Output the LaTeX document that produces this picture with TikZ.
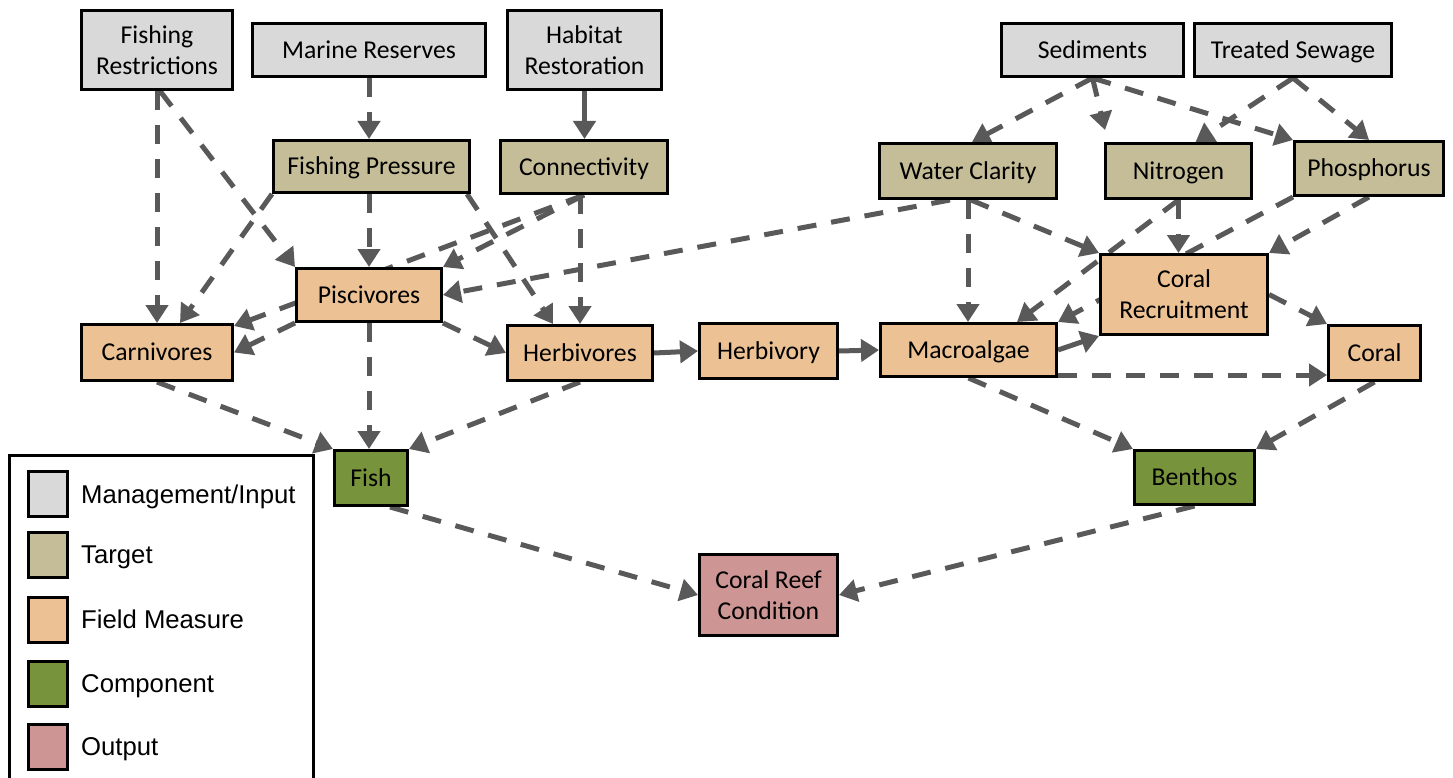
\documentclass[tikz,border=0pt]{standalone}
\usepackage{fontspec}
\setmainfont{Carlito}
\newfontfamily\legfont{Liberation Sans}
\usetikzlibrary{arrows.meta,calc}
\pgfdeclarelayer{edges}
\pgfsetlayers{edges,main}
\definecolor{cmgmt}{HTML}{D9D9D9}
\definecolor{ctarget}{HTML}{C4BD97}
\definecolor{cfield}{HTML}{ECC194}
\definecolor{ccomp}{HTML}{77933C}
\definecolor{cout}{HTML}{CD9593}
\definecolor{carrow}{HTML}{595959}
\begin{document}
\begin{tikzpicture}[x=1pt,y=-1pt,
  box/.style={draw=black, line width=3pt, inner sep=0pt, align=center,
    font=\fontsize{25.7}{31}\selectfont, text=black},
  one/.style={text height=16.5pt, text depth=0pt},
  mgmt/.style={box, fill=cmgmt},
  target/.style={box, fill=ctarget},
  field/.style={box, fill=cfield},
  comp/.style={box, fill=ccomp},
  outp/.style={box, fill=cout},
  sz/.style 2 args={minimum width=#1pt-3pt, minimum height=#2pt-3pt},
  flow/.style={draw=carrow, line width=5pt, dash pattern=on 19pt off 15pt,
    -{Triangle[length=18pt,width=22pt]}},
  sflow/.style={draw=carrow, line width=5pt, -{Triangle[length=18pt,width=22pt]}},
  legsq/.style={draw=black, line width=3pt, inner sep=0pt, minimum width=39pt, minimum height=45pt},
  legtx/.style={anchor=base west, inner sep=0pt, font=\legfont\fontsize{25.7}{30}\selectfont},
]
\clip (0,0) rectangle (1453,778);

% management / input
\node[mgmt, sz={154}{82}] (fr) at (157,50) {Fishing\\Restrictions};
\node[mgmt, one, sz={236}{56}] (mr) at (369,50) {Marine Reserves};
\node[mgmt, sz={157}{82}] (hr) at (584.5,50) {Habitat\\Restoration};
\node[mgmt, one, sz={185}{56}] (sed) at (1092.5,50) {Sediments};
\node[mgmt, one, sz={200}{56}] (ts) at (1293,50) {Treated Sewage};
% targets
\node[target, one, sz={199}{55}] (fp) at (371.5,166.5) {Fishing Pressure};
\node[target, one, sz={170}{56}] (con) at (584,167) {Connectivity};
\node[target, one, sz={180}{58}] (wc) at (968,171) {Water Clarity};
\node[target, one, sz={149}{58}] (nit) at (1178.5,171) {Nitrogen};
\node[target, one, sz={152}{57}] (pho) at (1369,168.5) {Phosphorus};
% field measures
\node[field, one, sz={148}{56}] (pis) at (369,295) {Piscivores};
\node[field, one, sz={154}{59}] (car) at (157,352.5) {Carnivores};
\node[field, one, sz={148}{58}] (her) at (580,353) {Herbivores};
\node[field, one, sz={141}{58}] (hby) at (768.5,351) {Herbivory};
\node[field, one, sz={179}{56}] (mac) at (968.5,350) {Macroalgae};
\node[field, sz={170}{83}] (cr) at (1184,294.5) {Coral\\Recruitment};
\node[field, one, sz={95}{58}] (cor) at (1374.5,353) {Coral};
% components
\node[comp, one, sz={76}{58}] (fish) at (371,478) {Fish};
\node[comp, one, sz={123}{57}] (ben) at (1194.5,477.5) {Benthos};
% output
\node[outp, sz={141}{84}] (crc) at (768.5,595) {Coral Reef\\Condition};

\begin{pgfonlayer}{edges}
\draw[flow] (mr.south) -- (mr.south |- fp.north);
\draw[sflow] (hr.south) -- (hr.south |- con.north);
\draw[flow] (fr.south) -- (car.north);
\draw[flow] ($(fr.south)+(3,0)$) -- (pis.north west);
\draw[flow] (fp.south west) -- ($(car.north)+(23,0)$);
\draw[flow] (pis.north |- fp.south) -- (pis.north);
\draw[flow] ($(fp.south east)+(-4,0)$) -- ($(her.north west)+(47,0)$);
\draw[flow] (con.south) -- (pis.north east);
\draw[flow] (con.south) -- ($(car.north east)+(0,3)$);
\draw[flow] (her.north |- con.south) -- (her.north);
\draw[flow] (pis.south west) -- (car.east);
\draw[flow] ($(wc.south)+(-18,0)$) -- (pis.east);
\draw[flow] (wc.south) -- (wc.south |- mac.north);
\draw[flow] ($(wc.south)+(3,0)$) -- (cr.north west);
\draw[flow] (pis.south east) -- (her.west);
\draw[flow] (pis.south) -- (pis.south |- fish.north);
\draw[flow] (car.south) -- (fish.north west);
\draw[flow] (her.south) -- (fish.north east);
\draw[sflow] (her.east) -- (hby.west);
\draw[sflow] (hby.east) -- (mac.west);
\draw[sflow] (mac.east) -- (cr.south west);
\draw[flow] ($(mac.south east)+(0,-3)$) -- ($(cor.south west)+(0,-7)$);
\draw[flow] (mac.south) -- (ben.north west);
\draw[flow] (nit.south) -- (nit.south |- cr.north);
\draw[flow] (nit.south) -- ($(mac.north east)+(-41,0)$);
\draw[flow] (pho.south west) -- (mac.north east);
\draw[flow] (pho.south) -- (cr.north east);
\draw[flow] (cr.east) -- (cor.north west);
\draw[flow] (cor.south) -- (ben.north east);
\draw[flow] ($(fish.south)+(19,0)$) -- (crc.west);
\draw[flow] (ben.south) -- (crc.east);
\draw[flow] (sed.south) -- ($(wc.north)+(4,0)$);
\draw[flow] (sed.south) -- ($(nit.north west)+(1,-12)$);
\draw[flow] (sed.south) -- (pho.north west);
\draw[flow] (ts.south) -- ($(nit.north)+(17,0)$);
\draw[flow] (ts.south) -- (pho.north);
\end{pgfonlayer}

% legend
\draw[line width=3pt, fill=white] (9,455) rectangle (313,800);
\node[legsq, fill=cmgmt]   (l1) at (48,494)   {};
\node[legsq, fill=ctarget] (l2) at (48,554.5) {};
\node[legsq, fill=cfield]  (l3) at (48,619.5) {};
\node[legsq, fill=ccomp]   (l4) at (48,683.5) {};
\node[legsq, fill=cout]    (l5) at (48,746.5) {};
\node[legtx] (t1) at (81,503)   {Management/Input};
\node[legtx] (t2) at (81,563.5) {Target};
\node[legtx] (t3) at (81,628.5) {Field Measure};
\node[legtx] (t4) at (81,692.5) {Component};
\node[legtx] (t5) at (81,755.5) {Output};
\end{tikzpicture}
\end{document}
